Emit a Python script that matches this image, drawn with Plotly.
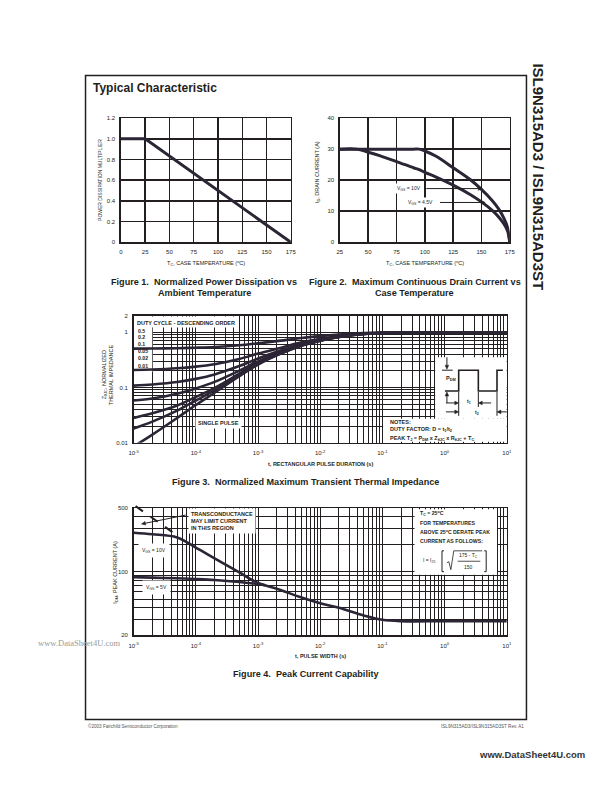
import math
import plotly.graph_objects as go

W, H = 612, 792
FONT = "Liberation Sans"
INK = "#231f20"
CURVE = "#2c2535"

# ---------------- data ----------------
fig1_temp = [0, 25, 175]
fig1_multiplier = [1.0, 1.0, 0.0]
fig1_xticks = [0, 25, 50, 75, 100, 125, 150, 175]
fig1_yticks = [0, 0.2, 0.4, 0.6, 0.8, 1.0, 1.2]
fig1_ytext = ["0", "0.2", "0.4", "0.6", "0.8", "1.0", "1.2"]

fig2_temp = [25, 40, 50, 60, 75, 90, 95, 100, 110, 125, 140, 150, 160, 165, 170, 173, 175]
fig2_id_vgs10 = [30, 30, 30, 30, 30, 30, 30, 29.4, 27.7, 24.0, 20.2, 17.0, 13.2, 10.8, 7.6, 4.8, 0]
fig2_id_vgs45 = [30, 30, 29.0, 27.9, 26.0, 24.0, 23.4, 22.5, 21.0, 18.4, 15.4, 13.0, 10.1, 8.2, 5.8, 3.7, 0]
fig2_xticks = [25, 50, 75, 100, 125, 150, 175]
fig2_yticks = [0, 10, 20, 30, 40]

fig3_t = [1e-5, 2e-5, 5e-5, 1e-4, 2e-4, 5e-4, 1e-3, 2e-3, 5e-3, 1e-2, 2e-2, 5e-2, 1e-1, 1, 10]
fig3_z_d050 = [0.504, 0.507, 0.514, 0.524, 0.54, 0.58, 0.63, 0.69, 0.785, 0.85, 0.91, 0.965, 0.985, 1.0, 1.0]
fig3_z_d020 = [0.207, 0.211, 0.222, 0.238, 0.264, 0.328, 0.41, 0.50, 0.656, 0.76, 0.856, 0.944, 0.976, 1.0, 1.0]
fig3_z_d010 = [0.108, 0.113, 0.125, 0.143, 0.172, 0.244, 0.334, 0.442, 0.613, 0.73, 0.838, 0.937, 0.973, 1.0, 1.0]
fig3_z_d005 = [0.058, 0.063, 0.077, 0.096, 0.126, 0.202, 0.297, 0.411, 0.59, 0.715, 0.83, 0.93, 0.97, 1.0, 1.0]
fig3_z_d002 = [0.028, 0.034, 0.047, 0.067, 0.098, 0.177, 0.275, 0.392, 0.58, 0.706, 0.82, 0.93, 0.97, 1.0, 1.0]
fig3_z_d001 = [0.018, 0.024, 0.038, 0.058, 0.089, 0.168, 0.267, 0.386, 0.575, 0.703, 0.82, 0.93, 0.97, 1.0, 1.0]
fig3_z_single = [0.0085, 0.014, 0.028, 0.048, 0.08, 0.16, 0.26, 0.38, 0.57, 0.70, 0.82, 0.93, 0.97, 1.0, 1.0]
fig3_duty_labels = ["0.5", "0.2", "0.1", "0.05", "0.02", "0.01"]

decade_x = [1e-5, 1e-4, 1e-3, 1e-2, 1e-1, 1e0, 1e1]
decade_x_text = ["10<sup>-5</sup>", "10<sup>-4</sup>", "10<sup>-3</sup>", "10<sup>-2</sup>",
                 "10<sup>-1</sup>", "10<sup>0</sup>", "10<sup>1</sup>"]
fig3_yticks = [0.01, 0.1, 1, 2]
fig3_ytext = ["0.01", "0.1", "1", "2"]

fig4_t = [1e-5, 2e-5, 5e-5, 1e-4, 2e-4, 5e-4, 1e-3, 2e-3, 5e-3, 1e-2, 2e-2, 5e-2, 1e-1, 2e-1, 1, 10]
fig4_idm_vgs10 = [268, 258, 238, 184, 140, 98, 75, 65, 52, 45, 40, 33, 29.5, 28.5, 28.5, 28.5]
fig4_t_vgs5 = [1e-5, 2e-5, 5e-5, 1e-4, 2e-4, 5e-4, 1e-3, 1.3e-3]
fig4_idm_vgs5 = [87, 86, 84.5, 83, 81, 77, 73, 71]
fig4_yticks = [20, 100, 500]
fig4_ytext = ["20", "100", "500"]
fig4_yminor = [30, 40, 50, 60, 70, 80, 90, 200, 300, 400]

# ---------------- helpers ----------------
def px(x):
    return x / W


def py(y):
    return 1 - y / H


AX = {1: (118, 291, 116, 241), 2: (341, 514, 116, 241),
      3: (131, 511, 315, 443), 4: (131, 511, 509, 637)}
XR = {3: (-5, 1), 4: (-5, 1)}
YR = {3: (-2, math.log10(2)), 4: (math.log10(20), math.log10(500))}


def dom(n):
    L, R, T, B = AX[n]
    return [L / W, R / W], [1 - B / H, 1 - T / H]


def log_minor(lo_exp, hi_exp):
    return [m * 10 ** e for e in range(lo_exp, hi_exp) for m in range(2, 10)]


tickfont = dict(family=FONT, size=6, color=INK)
base = dict(showgrid=True, gridcolor=INK, gridwidth=1, showline=True, linecolor=INK,
            linewidth=1.5, mirror=True, zeroline=False, ticks="", tickfont=tickfont,
            fixedrange=True, ticklabelstandoff=3)
minor_x = dict(tickvals=log_minor(-5, 1), showgrid=True, gridcolor=INK, gridwidth=1, ticks="")

fig = go.Figure()

# Figure 1
fig.add_trace(go.Scatter(x=fig1_temp, y=fig1_multiplier, mode="lines",
                         line=dict(color=CURVE, width=3), xaxis="x", yaxis="y"))
# Figure 2
fig.add_trace(go.Scatter(x=fig2_temp, y=fig2_id_vgs10, mode="lines",
                         line=dict(color=CURVE, width=3, shape="spline"), xaxis="x2", yaxis="y2"))
fig.add_trace(go.Scatter(x=fig2_temp, y=fig2_id_vgs45, mode="lines",
                         line=dict(color=CURVE, width=3, shape="spline"), xaxis="x2", yaxis="y2"))
# Figure 3
for z in [fig3_z_d050, fig3_z_d020, fig3_z_d010, fig3_z_d005, fig3_z_d002, fig3_z_d001, fig3_z_single]:
    fig.add_trace(go.Scatter(x=fig3_t, y=z, mode="lines",
                             line=dict(color=CURVE, width=2.6, shape="spline"), xaxis="x3", yaxis="y3"))
# Figure 4
fig.add_trace(go.Scatter(x=fig4_t, y=fig4_idm_vgs10, mode="lines",
                         line=dict(color=CURVE, width=2.6, shape="spline"), xaxis="x4", yaxis="y4"))
fig.add_trace(go.Scatter(x=fig4_t_vgs5, y=fig4_idm_vgs5, mode="lines",
                         line=dict(color=CURVE, width=2.6, shape="spline"), xaxis="x4", yaxis="y4"))

x1d, y1d = dom(1)
x2d, y2d = dom(2)
x3d, y3d = dom(3)
x4d, y4d = dom(4)

fig.update_layout(
    width=W, height=H, autosize=False, showlegend=False,
    margin=dict(l=0, r=0, t=0, b=0),
    paper_bgcolor="white", plot_bgcolor="white",
    font=dict(family=FONT, color=INK),
    xaxis=dict(base, domain=x1d, range=[0, 175], tickvals=fig1_xticks, anchor="y", gridwidth=1.4),
    yaxis=dict(base, domain=y1d, range=[0, 1.2], tickvals=fig1_yticks, ticktext=fig1_ytext,
               anchor="x", gridwidth=1.4),
    xaxis2=dict(base, domain=x2d, range=[25, 175], tickvals=fig2_xticks, anchor="y2", gridwidth=1.4),
    yaxis2=dict(base, domain=y2d, range=[0, 40], tickvals=fig2_yticks, anchor="x2", gridwidth=1.4),
    xaxis3=dict(base, domain=x3d, type="log", range=list(XR[3]), tickvals=decade_x,
                ticktext=decade_x_text, anchor="y3", ticklabelstandoff=4, minor=minor_x),
    yaxis3=dict(base, domain=y3d, type="log", range=list(YR[3]), tickvals=fig3_yticks,
                ticktext=fig3_ytext, anchor="x3",
                minor=dict(tickvals=log_minor(-2, 0), showgrid=True, gridcolor=INK, gridwidth=1, ticks="")),
    xaxis4=dict(base, domain=x4d, type="log", range=list(XR[4]), tickvals=decade_x,
                ticktext=decade_x_text, anchor="y4", ticklabelstandoff=4, minor=minor_x),
    yaxis4=dict(base, domain=y4d, type="log", range=list(YR[4]),
                tickvals=fig4_yticks, ticktext=fig4_ytext, anchor="x4",
                minor=dict(tickvals=fig4_yminor, showgrid=True, gridcolor=INK, gridwidth=1, ticks="")),
)

# ---------------- shapes ----------------
shapes = []


def wbox(n, x0, y0, x1, y1):
    """white box (covers grid, stays under curves) on log subplot n, given page pixels"""
    L, R, T, B = AX[n]
    xlo, xhi = XR[n]
    ylo, yhi = YR[n]

    def dx(p):
        return 10 ** (xlo + (p - L) / (R - L) * (xhi - xlo))

    def dy(p):
        return 10 ** (ylo + (B - p) / (B - T) * (yhi - ylo))

    shapes.append(dict(type="rect", xref=f"x{n}", yref=f"y{n}",
                       x0=dx(x0), x1=dx(x1), y0=dy(y1), y1=dy(y0),
                       fillcolor="white", line=dict(width=0), layer="between"))


def pline(x0, y0, x1, y1, w=1, dash=None):
    d = dict(type="line", xref="paper", yref="paper", x0=px(x0), y0=py(y0), x1=px(x1), y1=py(y1),
             line=dict(color=INK, width=w), layer="above")
    if dash:
        d["line"]["dash"] = dash
    shapes.append(d)


def ppath(points, w=1, fill=None, close=False):
    s = "M " + " L ".join(f"{px(x):.5f},{py(y):.5f}" for x, y in points)
    if close:
        s += " Z"
    d = dict(type="path", xref="paper", yref="paper", path=s,
             line=dict(color=INK, width=w), layer="above")
    if fill:
        d["fillcolor"] = fill
    shapes.append(d)


def arrow(xh, yh, xt, yt, head=4.0, half=1.8):
    vx, vy = xh - xt, yh - yt
    n = math.hypot(vx, vy)
    ux, uy = vx / n, vy / n
    bx, by = xh - ux * head, yh - uy * head
    pline(xt, yt, bx, by, w=1)
    ppath([(xh, yh), (bx - uy * half, by + ux * half), (bx + uy * half, by - ux * half)],
          w=0.5, fill=INK, close=True)


# page frame
shapes.append(dict(type="rect", xref="paper", yref="paper", x0=px(82), x1=px(531), y0=py(722), y1=py(73),
                   line=dict(color=INK, width=1.5), layer="below"))

# Figure 3 boxes
wbox(3, 131, 316, 238, 327)
wbox(3, 131, 327, 150, 372)
wbox(3, 438, 357, 511, 419)
wbox(3, 385, 419, 511, 442)
# Figure 4 box
wbox(4, 417, 510, 501, 576)

# pulse waveform
ppath([(448, 391), (462, 391), (462, 370), (482, 370), (482, 391), (501, 391), (501, 370), (507, 370)], w=1.6)
pline(445, 370, 456, 370)
pline(462, 392, 462, 416)
pline(482, 392, 482, 407)
pline(501, 392, 501, 416)
arrow(450, 369, 450, 357)
arrow(450, 392, 450, 403)
arrow(462, 403, 449, 403)
arrow(482, 403, 495, 403)
arrow(462, 412, 449, 412)
arrow(501, 412, 511, 412)

# Figure 2 label arrows
arrow(486, 187, 429, 187)
arrow(489, 201, 443, 201)

# transconductance dashed line and pointer
pline(133, 507, 176, 537, w=2, dash="dash")
arrow(139, 525, 184, 516)

# formula brackets and root
ppath([(447, 552), (445, 552), (445, 573), (447, 573)], w=1)
ppath([(488, 552), (490, 552), (490, 573), (488, 573)], w=1)
ppath([(450, 564), (452, 563), (454, 571), (457, 552), (486, 552)], w=0.8)
pline(461, 562.5, 484, 562.5, w=0.8)

fig.update_layout(shapes=shapes)

# ---------------- annotations ----------------
ann = []


def text(x, y, s, size=5.5, xanchor="left", bold=True, color=INK, angle=0, family=FONT,
         yanchor="middle", bg=None, pad=1, align="left"):
    d = dict(x=px(x), y=py(y), xref="paper", yref="paper", text=s, showarrow=False,
             xanchor=xanchor, yanchor=yanchor, textangle=angle, align=align,
             font=dict(family=family, size=size, color=color, weight="bold" if bold else "normal"))
    if bg:
        d["bgcolor"] = bg
        d["borderpad"] = pad
    ann.append(d)


CAP = 9.1

text(88, 86, "Typical Characteristic", size=12)
text(543, 175, "ISL9N315AD3 / ISL9N315AD3ST", size=15, xanchor="center", angle=90)

# Figure 1
text(96, 178, "POWER DISSIPATION MULTIPLIER", size=5, xanchor="center", angle=-90, bold=False)
text(205, 262, "T<sub>C</sub>, CASE TEMPERATURE (<sup>o</sup>C)", size=5.5, xanchor="center", bold=False)
text(203, 281, "Figure 1.  Normalized Power Dissipation vs", size=CAP, xanchor="center")
text(203, 292, "Ambient Temperature", size=CAP, xanchor="center")

# Figure 2
text(318, 170, "I<sub>D</sub>, DRAIN CURRENT (A)", size=5.5, xanchor="center", angle=-90, bold=False)
text(428, 262, "T<sub>C</sub>, CASE TEMPERATURE (<sup>o</sup>C)", size=5.5, xanchor="center", bold=False)
text(417, 281, "Figure 2.  Maximum Continuous Drain Current vs", size=CAP, xanchor="center")
text(417, 292, "Case Temperature", size=CAP, xanchor="center")
text(411, 187, "V<sub>GS</sub> = 10V", size=5, xanchor="center", bg="white", bold=False)
text(423, 201, "V<sub>GS</sub> = 4.5V", size=5, xanchor="center", bg="white", bold=False)

# Figure 3
text(101, 375, "Z<sub>θJC</sub>, NORMALIZED", size=5.5, xanchor="center", angle=-90, bold=False)
text(108, 375, "THERMAL IMPEDANCE", size=5.5, xanchor="center", angle=-90, bold=False)
text(132, 322, "DUTY CYCLE - DESCENDING ORDER", size=5.5)
for lbl, yy in zip(fig3_duty_labels, [330, 337, 344, 351, 358, 366]):
    text(133, yy, lbl, size=5.2)
text(217, 423, "SINGLE PULSE", size=5.5, xanchor="center", bg="white", pad=2)
text(390, 422, "NOTES:", size=5.5)
text(390, 430, "DUTY FACTOR: D = t<sub>1</sub>/t<sub>2</sub>", size=5.5)
text(390, 438.5, "PEAK T<sub>J</sub> = P<sub>DM</sub> x Z<sub>θJC</sub> x R<sub>θJC</sub> + T<sub>C</sub>", size=5.5)
text(454, 378, "P<sub>DM</sub>", size=5.5, xanchor="center")
text(472, 402, "t<sub>1</sub>", size=5, xanchor="center")
text(481, 413, "t<sub>2</sub>", size=5, xanchor="center")
text(321, 465, "t, RECTANGULAR PULSE DURATION (s)", size=5.5, xanchor="center")
text(306, 483, "Figure 3.  Normalized Maximum Transient Thermal Impedance", size=CAP, xanchor="center")

# Figure 4
text(113, 573, "I<sub>DM</sub>, PEAK CURRENT (A)", size=5.5, xanchor="center", angle=-90, bold=False)
text(186, 522, "TRANSCONDUCTANCE<br>MAY LIMIT CURRENT<br>IN THIS REGION", size=5.5, bg="white", pad=2)
text(152, 552, "V<sub>GS</sub> = 10V", size=5, xanchor="center", bg="white", pad=3, bold=False)
text(154, 589, "V<sub>GS</sub> = 5V", size=5, xanchor="center", bg="white", pad=3, bold=False)
text(421, 514, "T<sub>C</sub> = 25<sup>o</sup>C", size=5.2)
text(421, 524, "FOR TEMPERATURES", size=5.2)
text(421, 533, "ABOVE 25<sup>o</sup>C DERATE PEAK", size=5.2)
text(421, 542, "CURRENT AS FOLLOWS:", size=5.2)
text(424, 562, "I = I<sub>25</sub>", size=5, bold=False)
text(472, 557, "175 - T<sub>C</sub>", size=5, xanchor="center", bold=False)
text(472, 568, "150", size=5, xanchor="center", bold=False)
text(321, 658, "t, PULSE WIDTH (s)", size=5.5, xanchor="center")
text(306, 676, "Figure 4.  Peak Current Capability", size=CAP, xanchor="center")

# footer / watermark
text(75, 645, "www.DataSheet4U.com", size=8.5, xanchor="center", bold=False, color="#9a9a9a",
     family="Liberation Serif")
text(82, 729, "©2003 Fairchild Semiconductor Corporation", size=4.6, bold=False, color="#555555")
text(531, 729, "ISL9N315AD3/ISL9N315AD3ST Rev. A1", size=4.6, xanchor="right", bold=False, color="#555555")
text(537, 757, "www.DataSheet4U.com", size=9.5, xanchor="center", color="#333333")

fig.update_layout(annotations=ann)

fig.write_html("out.html", config={"displayModeBar": False, "staticPlot": True},
               post_script="document.body.style.margin='0px';")
